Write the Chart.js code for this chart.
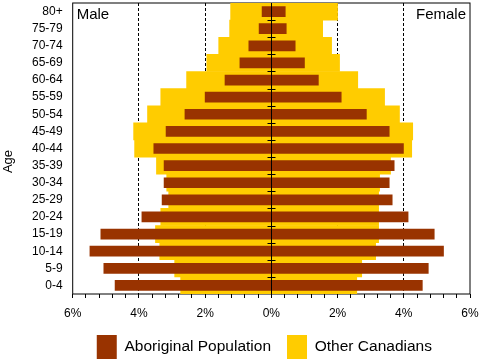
<!DOCTYPE html>
<html>
<head>
<meta charset="utf-8">
<script src="https://cdn.jsdelivr.net/npm/chart.js@4.4.1/dist/chart.umd.min.js"></script>
<style>
  html, body { margin: 0; padding: 0; background: #fff; }
</style>
</head>
<body>
<canvas id="pyramid" width="481" height="362"></canvas>
<script>
// Age groups, top to bottom
const ageGroups = ['80+', '75-79', '70-74', '65-69', '60-64', '55-59', '50-54', '45-49',
  '40-44', '35-39', '30-34', '25-29', '20-24', '15-19', '10-14', '5-9', '0-4'];

// Share of population (%)
const aboriginalMale = [0.29, 0.38, 0.69, 0.96, 1.41, 2.01, 2.62, 3.19, 3.56, 3.25, 3.25, 3.31, 3.92, 5.16, 5.49, 5.07, 4.73];
const aboriginalFemale = [0.43, 0.46, 0.73, 1.01, 1.43, 2.12, 2.88, 3.57, 4.00, 3.72, 3.57, 3.66, 4.14, 4.93, 5.21, 4.75, 4.57];
const otherMale = [1.23, 1.26, 1.59, 1.95, 2.56, 3.34, 3.74, 4.16, 4.13, 3.47, 3.16, 3.10, 3.34, 3.50, 3.37, 2.92, 2.74];
const otherFemale = [2.00, 1.55, 1.82, 2.06, 2.61, 3.42, 3.87, 4.27, 4.24, 3.60, 3.27, 3.24, 3.24, 3.24, 3.15, 2.73, 2.58];

// Labelled ticks and dashed grid lines on the x axis
const majorTicks = [-6, -4, -2, 0, 2, 4, 6];
const dashedLines = [-4, -2, 2, 4];

const FONT = '"Liberation Sans", Arial, sans-serif';
Chart.defaults.font.family = FONT;
Chart.defaults.color = '#000';

const near = (list, v) => list.some(t => Math.abs(t - v) < 1e-6);

// Male to the left, female to the right: one floating bar per age group
const toPyramid = (male, female) => male.map((m, i) => [-m, female[i]]);

// Frame, centre axis with its crosses, and the side texts
const pyramidDecor = {
  id: 'pyramidDecor',
  afterLayout(chart) {
    // legend sits a little left of the plot centre
    chart.legend.left -= 7;
    chart.legend.right -= 7;
  },
  beforeDatasetsDraw(chart) {
    const { ctx, chartArea: a } = chart;
    ctx.save();
    ctx.strokeStyle = '#000';
    ctx.lineWidth = 1;
    ctx.strokeRect(a.left, a.top, a.right - a.left, a.bottom - a.top);
    ctx.restore();
  },
  afterDatasetsDraw(chart) {
    const { ctx, chartArea: a, scales: { x, y } } = chart;
    const cx = Math.round(x.getPixelForValue(0)) + 0.5;
    ctx.save();
    ctx.strokeStyle = '#000';
    ctx.lineWidth = 1;
    ctx.beginPath();
    ctx.moveTo(cx, a.top);
    ctx.lineTo(cx, a.bottom);
    for (let i = 1; i < ageGroups.length; i++) {
      const yb = Math.round((y.getPixelForValue(i - 1) + y.getPixelForValue(i)) / 2) + 0.5;
      ctx.moveTo(cx - 4, yb);
      ctx.lineTo(cx + 4, yb);
    }
    ctx.stroke();

    ctx.fillStyle = '#000';
    ctx.font = '15px ' + FONT;
    ctx.textBaseline = 'alphabetic';
    ctx.textAlign = 'left';
    ctx.fillText('Male', a.left + 4, a.top + 16);
    ctx.textAlign = 'right';
    ctx.fillText('Female', a.right - 4, a.top + 16);

    // y axis title
    ctx.font = '13px ' + FONT;
    ctx.translate(12, 161.5);
    ctx.rotate(-Math.PI / 2);
    ctx.textAlign = 'center';
    ctx.fillText('Age', 0, 0);
    ctx.restore();
  }
};

new Chart(document.getElementById('pyramid'), {
  type: 'bar',
  data: {
    labels: ageGroups,
    datasets: [{
      label: 'Aboriginal Population',
      data: toPyramid(aboriginalMale, aboriginalFemale),
      backgroundColor: '#993300',
      borderWidth: 0,
      grouped: false,
      categoryPercentage: 1,
      barPercentage: 0.625
    }, {
      label: 'Other Canadians',
      data: toPyramid(otherMale, otherFemale),
      backgroundColor: '#FFCC00',
      borderWidth: 0,
      grouped: false,
      categoryPercentage: 1,
      barPercentage: 1
    }]
  },
  options: {
    indexAxis: 'y',
    responsive: false,
    animation: false,
    layout: { padding: { left: 0, right: 11, top: 3, bottom: -7 } },
    plugins: {
      tooltip: { enabled: false },
      legend: {
        position: 'bottom',
        fullSize: false,
        labels: { boxWidth: 20, boxHeight: 24, padding: 16, font: { size: 15.5 } }
      }
    },
    scales: {
      x: {
        type: 'linear',
        min: -6,
        max: 6,
        ticks: {
          stepSize: 0.4,
          autoSkip: false,
          maxRotation: 0,
          padding: 8,
          font: { size: 12 },
          callback: v => near(majorTicks, v) ? Math.abs(Math.round(v)) + '%' : ''
        },
        grid: {
          color: c => near(dashedLines, c.tick.value) ? '#000' : 'rgba(0,0,0,0)',
          tickColor: '#000',
          tickLength: 4,
          lineWidth: 1
        },
        border: { display: false, dash: [3, 2] },
        afterFit: s => { s.height = 25; s.paddingLeft = 0; s.paddingRight = 0; }
      },
      y: {
        ticks: { padding: 10, autoSkip: false, font: { size: 12 } },
        grid: { display: false, drawTicks: false },
        border: { display: false },
        afterFit: s => { s.width = 72.7; s.paddingTop = 0; s.paddingBottom = 0; }
      }
    }
  },
  plugins: [pyramidDecor]
});
</script>
</body>
</html>
